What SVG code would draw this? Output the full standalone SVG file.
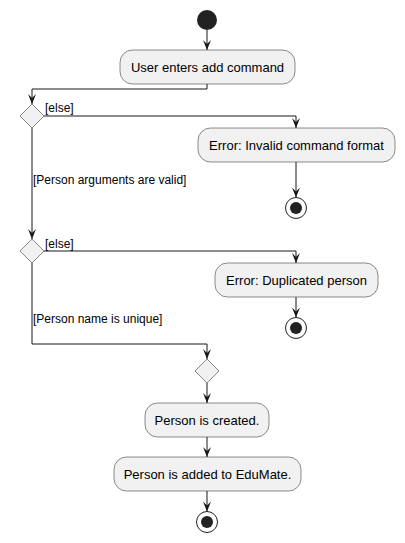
<svg xmlns="http://www.w3.org/2000/svg" width="405" height="543" viewBox="0 0 405 543">
<defs>
<marker id="ah" viewBox="0 0 10 10" refX="10" refY="5" markerWidth="10" markerHeight="10" markerUnits="userSpaceOnUse" orient="auto">
<path d="M0,1 L10,5 L0,9 L4,5 Z" fill="#181818"/>
</marker>
</defs>
<style>
.box{fill:#F1F1F1;stroke:#181818;stroke-width:0.5}
.dia{fill:#F1F1F1;stroke:#181818;stroke-width:0.5}
.t{font-family:"Liberation Sans",Arial,sans-serif;font-size:13px;fill:#000;text-anchor:middle}
.g{font-family:"Liberation Sans",Arial,sans-serif;font-size:12px;fill:#000}
.ln{fill:none;stroke:#181818;stroke-width:1;marker-end:url(#ah)}
.st{fill:#222222}
.endo{fill:none;stroke:#222222;stroke-width:1}
</style>
<g id="start"><circle class="st" cx="207" cy="20" r="10"/></g>
<g id="n1"><rect class="box" x="120" y="50" width="175" height="34" rx="12.5"/><text class="t" x="207.5" y="71.5">User enters add command</text></g>
<g id="d1"><polygon class="dia" points="32,104 44,116 32,128 20,116"/></g>
<g id="n2"><rect class="box" x="198" y="128" width="197" height="34" rx="12.5"/><text class="t" x="296.5" y="149.5">Error: Invalid command format</text></g>
<g id="e1"><circle class="endo" cx="296" cy="208" r="10.5"/><circle class="st" cx="296" cy="208" r="6"/></g>
<g id="d2"><polygon class="dia" points="32,239 44,251 32,263 20,251"/></g>
<g id="n3"><rect class="box" x="215" y="263" width="163" height="34" rx="12.5"/><text class="t" x="296.5" y="284.5">Error: Duplicated person</text></g>
<g id="e2"><circle class="endo" cx="296" cy="328" r="10.5"/><circle class="st" cx="296" cy="328" r="6"/></g>
<g id="m1"><polygon class="dia" points="207,359 219,371 207,383 195,371"/></g>
<g id="n4"><rect class="box" x="145" y="403" width="124" height="34" rx="12.5"/><text class="t" x="207" y="424.5">Person is created.</text></g>
<g id="n5"><rect class="box" x="114" y="457" width="187" height="34" rx="12.5"/><text class="t" x="207.5" y="478.5">Person is added to EduMate.</text></g>
<g id="e3"><circle class="endo" cx="207" cy="522" r="10.5"/><circle class="st" cx="207" cy="522" r="6"/></g>
<g id="edges">
<path class="ln" d="M207,30 V50"/>
<path class="ln" d="M207,84 V89 H32 V104"/>
<path class="ln" d="M44,116 H296 V128"/>
<text class="g" x="45" y="112">[else]</text>
<path class="ln" d="M296,162 V197.5"/>
<path class="ln" d="M32,128 V239"/>
<text class="g" x="33" y="184">[Person arguments are valid]</text>
<path class="ln" d="M44,251 H296 V263"/>
<text class="g" x="45" y="248">[else]</text>
<path class="ln" d="M296,297 V317.5"/>
<path class="ln" d="M32,263 V344 H207 V359"/>
<text class="g" x="33" y="323">[Person name is unique]</text>
<path class="ln" d="M207,383 V403"/>
<path class="ln" d="M207,437 V457"/>
<path class="ln" d="M207,491 V511.5"/>
</g>
</svg>
